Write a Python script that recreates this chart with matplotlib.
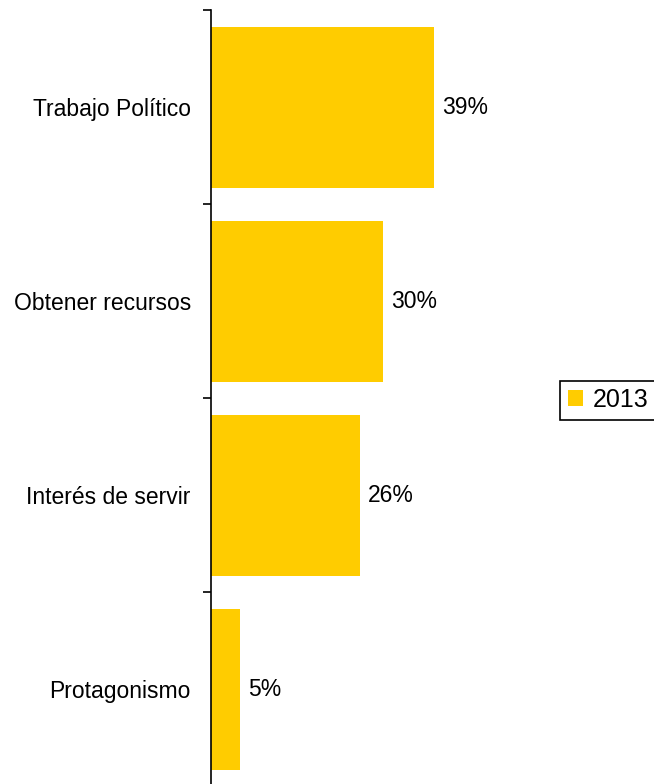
import matplotlib.pyplot as plt
import numpy as np

plt.rcParams['font.family'] = ['Liberation Sans', 'DejaVu Sans']

categories = ["Trabajo Político", "Obtener recursos", "Interés de servir", "Protagonismo"]
values = [39, 30, 26, 5]
series_name = "2013"

fig = plt.figure(figsize=(6.54, 7.84), dpi=100)
ax = fig.add_axes([211 / 654, -0.003, (560 - 211) / 654, 0.99])

y = np.arange(len(categories))[::-1]
bars = ax.barh(y, values, height=0.83, color="#FFCC00", label=series_name)
ax.bar_label(bars, labels=[f"{v}%" for v in values], padding=6, fontsize=16.5)

ax.set_ylim(-0.5, 3.5)
ax.set_xlim(0, (560 - 211) / 5.72)

ax.set_yticks(y)
ax.set_yticklabels(categories, fontsize=16.5)
ax.tick_params(axis="y", which="major", length=0, pad=14.5)
ax.set_yticks(np.arange(-0.5, 4.0, 1.0), minor=True)
ax.tick_params(axis="y", which="minor", length=6, width=1.2, direction="out")

ax.xaxis.set_visible(False)
for side in ["top", "right", "bottom"]:
    ax.spines[side].set_visible(False)
ax.spines["left"].set_linewidth(1.2)

leg = fig.legend(loc="center left", bbox_to_anchor=(560 / 654, 1 - 400 / 784),
                 bbox_transform=fig.transFigure, borderaxespad=0, fontsize=18,
                 handlelength=0.6, handleheight=0.6, handletextpad=0.4,
                 fancybox=False, edgecolor="black", framealpha=1,
                 borderpad=0.3)
leg.get_frame().set_linewidth(1.2)

fig.savefig("out.png", dpi=100)
